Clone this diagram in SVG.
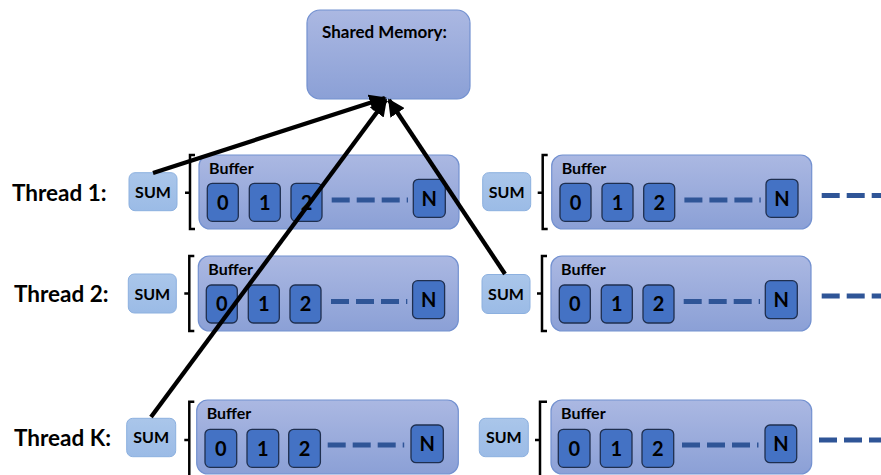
<svg xmlns="http://www.w3.org/2000/svg" width="881" height="475" viewBox="0 0 881 475">
  <defs>
    <linearGradient id="gBlock" x1="0" y1="0" x2="0" y2="1">
      <stop offset="0" stop-color="#abb8e2"/>
      <stop offset="1" stop-color="#8ba0d6"/>
    </linearGradient>
    <linearGradient id="gSum" x1="0" y1="0" x2="0" y2="1">
      <stop offset="0" stop-color="#aac6ea"/>
      <stop offset="1" stop-color="#9bbbe6"/>
    </linearGradient>
    <marker id="head" viewBox="0 0 10 10" refX="9" refY="5" markerWidth="4" markerHeight="4" orient="auto" markerUnits="strokeWidth">
      <path d="M0,0 L10,5 L0,10 z" fill="#000"/>
    </marker>
  </defs>
  <style>
    .block { fill: url(#gBlock); stroke: #7391d0; stroke-width: 1.2; }
    .sum { fill: url(#gSum); stroke: #8cb0df; stroke-width: 1; }
    .cell { fill: #4472c4; stroke: #1f2f4f; stroke-width: 1.3; }
    .brace { fill: none; stroke: #000; stroke-width: 2.5; }
    .dash { stroke: #2f5597; stroke-width: 5; stroke-dasharray: 18 7; }
    .t { font-family: Lato, "Liberation Sans", sans-serif; font-weight: bold; fill: #000; }
    .label { font-size: 22.5px; }
    .title { font-size: 17px; }
    .buf { font-size: 16px; }
    .sumt { font-size: 16px; text-anchor: middle; }
    .num { font-size: 20px; text-anchor: middle; }
    .link { fill: none; stroke: #000; stroke-width: 4.3; marker-end: url(#head); }
  </style>

  <!-- shared memory -->
  <g id="shared-memory">
    <rect class="block" x="307" y="10" width="163" height="89" rx="13"/>
    <text class="t title" x="322" y="38">Shared Memory:</text>
  </g>

  <!-- row labels -->
  <g id="label-thread-1"><text class="t label" x="12" y="201">Thread 1:</text></g>
  <g id="label-thread-2"><text class="t label" x="14" y="302">Thread 2:</text></g>
  <g id="label-thread-k"><text class="t label" x="14" y="446">Thread K:</text></g>

  <!-- thread 1, left block -->
  <g id="t1-sum-a">
    <rect class="sum" x="129" y="172.7" width="48" height="38" rx="6"/>
    <text class="t sumt" x="153" y="197.5">SUM</text>
  </g>
  <g id="t1-buffer-a" transform="translate(199,155)">
    <path class="brace" d="M-4,0 H-9 V37.7 H-14 M-9,37.7 V74 H-4"/>
    <rect class="block" x="0" y="0" width="260" height="74" rx="11"/>
    <text class="t buf" x="10" y="19">Buffer</text>
    <rect class="cell" x="8.3" y="28.3" width="31" height="38" rx="5"/>
    <rect class="cell" x="50.3" y="28.3" width="31" height="38" rx="5"/>
    <rect class="cell" x="92" y="28.3" width="31" height="38" rx="5"/>
    <rect class="cell" x="214.3" y="24.3" width="32" height="38" rx="5"/>
    <text class="t num" x="23.8" y="54.5">0</text>
    <text class="t num" x="65.8" y="54.5">1</text>
    <text class="t num" x="107.5" y="54.5">2</text>
    <text class="t num" x="230.3" y="50.5">N</text>
    <line class="dash" x1="132.7" y1="45" x2="209" y2="45"/>
  </g>

  <!-- thread 1, right block -->
  <g id="t1-sum-b">
    <rect class="sum" x="482.7" y="172.7" width="48" height="38" rx="6"/>
    <text class="t sumt" x="506.7" y="197.5">SUM</text>
  </g>
  <g id="t1-buffer-b" transform="translate(551.7,155)">
    <path class="brace" d="M-4,0 H-9 V37.7 H-14 M-9,37.7 V74 H-4"/>
    <rect class="block" x="0" y="0" width="260" height="74" rx="11"/>
    <text class="t buf" x="10" y="19">Buffer</text>
    <rect class="cell" x="8.3" y="28.3" width="31" height="38" rx="5"/>
    <rect class="cell" x="50.3" y="28.3" width="31" height="38" rx="5"/>
    <rect class="cell" x="92" y="28.3" width="31" height="38" rx="5"/>
    <rect class="cell" x="214.3" y="24.3" width="32" height="38" rx="5"/>
    <text class="t num" x="23.8" y="54.5">0</text>
    <text class="t num" x="65.8" y="54.5">1</text>
    <text class="t num" x="107.5" y="54.5">2</text>
    <text class="t num" x="230.3" y="50.5">N</text>
    <line class="dash" x1="132.7" y1="45" x2="209" y2="45"/>
  </g>
  <g id="t1-more"><line class="dash" x1="821.7" y1="195.5" x2="881" y2="195.5"/></g>

  <!-- thread 2, left block -->
  <g id="t2-sum-a">
    <rect class="sum" x="128.3" y="274" width="48" height="39" rx="6"/>
    <text class="t sumt" x="152.3" y="299.5">SUM</text>
  </g>
  <g id="t2-buffer-a" transform="translate(198.3,256)">
    <path class="brace" d="M-4,0 H-9 V37.5 H-14 M-9,37.5 V75 H-4"/>
    <rect class="block" x="0" y="0" width="260" height="75" rx="11"/>
    <text class="t buf" x="10" y="19">Buffer</text>
    <rect class="cell" x="8" y="29" width="31" height="38" rx="5"/>
    <rect class="cell" x="50" y="29" width="31" height="38" rx="5"/>
    <rect class="cell" x="91.7" y="29" width="31" height="38" rx="5"/>
    <rect class="cell" x="214.3" y="24.7" width="32" height="38" rx="5"/>
    <text class="t num" x="23.5" y="55.2">0</text>
    <text class="t num" x="65.5" y="55.2">1</text>
    <text class="t num" x="107.2" y="55.2">2</text>
    <text class="t num" x="230.3" y="50.9">N</text>
    <line class="dash" x1="132.7" y1="45.5" x2="209" y2="45.5"/>
  </g>

  <!-- thread 2, right block -->
  <g id="t2-sum-b">
    <rect class="sum" x="482" y="274.5" width="48" height="39" rx="6"/>
    <text class="t sumt" x="506" y="300">SUM</text>
  </g>
  <g id="t2-buffer-b" transform="translate(551,256)">
    <path class="brace" d="M-4,0 H-9 V37.5 H-14 M-9,37.5 V75 H-4"/>
    <rect class="block" x="0" y="0" width="260" height="75" rx="11"/>
    <text class="t buf" x="10" y="19">Buffer</text>
    <rect class="cell" x="8.3" y="29" width="31" height="38" rx="5"/>
    <rect class="cell" x="50.3" y="29" width="31" height="38" rx="5"/>
    <rect class="cell" x="92" y="29" width="31" height="38" rx="5"/>
    <rect class="cell" x="214.3" y="24.7" width="32" height="38" rx="5"/>
    <text class="t num" x="23.8" y="55.2">0</text>
    <text class="t num" x="65.8" y="55.2">1</text>
    <text class="t num" x="107.5" y="55.2">2</text>
    <text class="t num" x="230.3" y="50.9">N</text>
    <line class="dash" x1="132.7" y1="45.5" x2="209" y2="45.5"/>
  </g>
  <g id="t2-more"><line class="dash" x1="821.7" y1="296" x2="881" y2="296"/></g>

  <!-- thread K, left block -->
  <g id="tk-sum-a">
    <rect class="sum" x="126.7" y="418.3" width="49" height="38.4" rx="6"/>
    <text class="t sumt" x="151.2" y="443.3">SUM</text>
  </g>
  <g id="tk-buffer-a" transform="translate(196.7,400)">
    <path class="brace" d="M-2.4,1.7 H-7.4 V40 H-12.4 M-7.4,40 V80"/>
    <rect class="block" x="0" y="0" width="261.6" height="74" rx="11"/>
    <text class="t buf" x="10" y="19">Buffer</text>
    <rect class="cell" x="8.3" y="29.3" width="31.7" height="38" rx="5"/>
    <rect class="cell" x="50.3" y="29.3" width="31.7" height="38" rx="5"/>
    <rect class="cell" x="92" y="29.3" width="31.7" height="38" rx="5"/>
    <rect class="cell" x="214.3" y="25" width="32.3" height="37.7" rx="5"/>
    <text class="t num" x="24.2" y="55.5">0</text>
    <text class="t num" x="66.2" y="55.5">1</text>
    <text class="t num" x="107.9" y="55.5">2</text>
    <text class="t num" x="230.5" y="51.2">N</text>
    <line class="dash" x1="131" y1="45" x2="207.5" y2="45"/>
  </g>

  <!-- thread K, right block -->
  <g id="tk-sum-b">
    <rect class="sum" x="479.3" y="418.3" width="49" height="38.4" rx="6"/>
    <text class="t sumt" x="503.8" y="443.3">SUM</text>
  </g>
  <g id="tk-buffer-b" transform="translate(551,400)">
    <path class="brace" d="M-4,1.7 H-11 V40 H-16 M-11,40 V80"/>
    <rect class="block" x="0" y="0" width="260.7" height="74" rx="11"/>
    <text class="t buf" x="10" y="19">Buffer</text>
    <rect class="cell" x="7.3" y="29.3" width="31.7" height="38" rx="5"/>
    <rect class="cell" x="49.3" y="29.3" width="31.7" height="38" rx="5"/>
    <rect class="cell" x="91" y="29.3" width="31.7" height="38" rx="5"/>
    <rect class="cell" x="214" y="25" width="31.7" height="37.7" rx="5"/>
    <text class="t num" x="23.2" y="55.5">0</text>
    <text class="t num" x="65.2" y="55.5">1</text>
    <text class="t num" x="106.9" y="55.5">2</text>
    <text class="t num" x="229.9" y="51.2">N</text>
    <line class="dash" x1="131" y1="45" x2="207.5" y2="45"/>
  </g>
  <g id="tk-more"><line class="dash" x1="819" y1="440" x2="881" y2="440"/></g>

  <!-- SUM values written back to shared memory -->
  <g id="connectors">
    <line class="link" x1="153" y1="173" x2="385" y2="98"/>
    <line class="link" x1="151" y1="417" x2="386" y2="100"/>
    <line class="link" x1="505" y1="274" x2="389" y2="100"/>
  </g>
</svg>
